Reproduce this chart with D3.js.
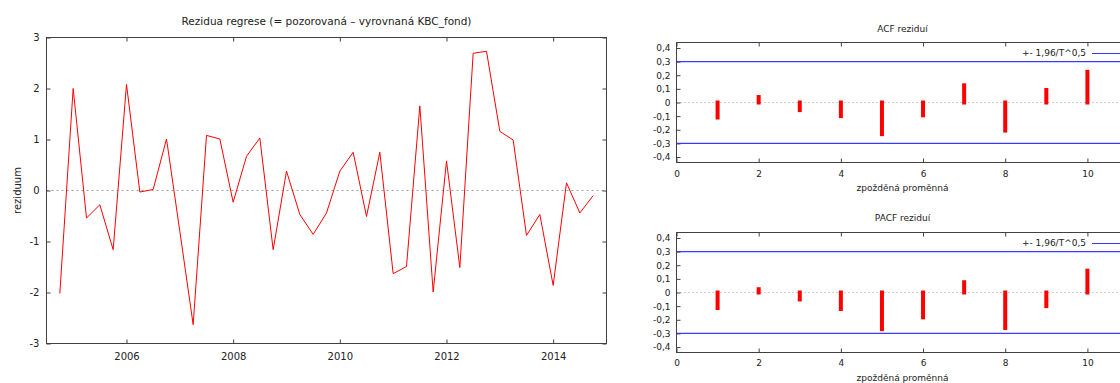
<!DOCTYPE html>
<html>
<head>
<meta charset="utf-8">
<script src="https://cdn.jsdelivr.net/npm/d3@7"></script>
<style>
  html, body { margin: 0; padding: 0; background: #fff; }
  svg { display: block; font-family: "DejaVu Sans", Verdana, sans-serif; }
</style>
</head>
<body>
<svg id="chart" width="1120" height="383"></svg>
<script>
// Quarterly periods of the regression sample
const periods = [
  "2004:4",
  "2005:1","2005:2","2005:3","2005:4",
  "2006:1","2006:2","2006:3","2006:4",
  "2007:1","2007:2","2007:3","2007:4",
  "2008:1","2008:2","2008:3","2008:4",
  "2009:1","2009:2","2009:3","2009:4",
  "2010:1","2010:2","2010:3","2010:4",
  "2011:1","2011:2","2011:3","2011:4",
  "2012:1","2012:2","2012:3","2012:4",
  "2013:1","2013:2","2013:3","2013:4",
  "2014:1","2014:2","2014:3","2014:4"
];

// Regression residuals (observed - fitted KBC_fond)
const residuals = [
  -2.02, 2.00, -0.54, -0.28, -1.16, 2.08, -0.03, 0.02, 1.01, -0.80,
  -2.63, 1.08, 1.01, -0.23, 0.67, 1.03, -1.16, 0.38, -0.47, -0.86,
  -0.44, 0.38, 0.75, -0.51, 0.75, -1.63, -1.49, 1.66, -1.99, 0.58,
  -1.51, 2.69, 2.73, 1.16, 0.99, -0.88, -0.47, -1.86, 0.15, -0.44,
  -0.10
];

// Correlogram of the residuals
const lags = [1, 2, 3, 4, 5, 6, 7, 8, 9, 10];
const acfValues  = [-0.11, 0.04, -0.056, -0.10, -0.232, -0.094, 0.126, -0.206, 0.092, 0.225];
const pacfValues = [-0.114, 0.024, -0.051, -0.121, -0.269, -0.182, 0.075, -0.26, -0.10, 0.16];
const confBand = 0.30; // +- 1.96/T^0.5

// Tick labels
const yearTicks = [2006, 2008, 2010, 2012, 2014];
const residTicks = [-3, -2, -1, 0, 1, 2, 3];
const lagTicks = [0, 2, 4, 6, 8, 10];
const corrTicks = [-0.4, -0.3, -0.2, -0.1, 0, 0.1, 0.2, 0.3, 0.4];

const cz = d3.formatLocale({decimal: ",", thousands: " ", grouping: [3], currency: ["", ""], minus: "-"});
const fmtInt = cz.format("d");
const fmtCorr = d => (d === 0 ? "0" : cz.format(".1f")(d));

const svg = d3.select("#chart");
const borderColor = "#404040";
const textColor = "#222";
const bandColor = "#3a3aff";

function styleAxis(g, fontSize) {
  g.select(".domain").remove();
  g.selectAll(".tick line").attr("stroke", borderColor);
  g.selectAll(".tick text").attr("fill", textColor)
    .style("font-size", fontSize + "px")
    .style("font-family", "DejaVu Sans, Verdana, sans-serif");
}

// ---------- Residual time series ----------
{
  const x0 = 46.5, x1 = 606.5, y0 = 37.5, y1 = 343.5;
  const x = d3.scaleLinear().domain([2004.5, 2015]).range([x0, x1]);
  const y = d3.scaleLinear().domain([-3, 3]).range([y1, y0]);
  const toYear = p => { const [yr, q] = p.split(":").map(Number); return yr + (q - 1) / 4; };
  const g = svg.append("g");

  g.append("line")
    .attr("x1", x0).attr("x2", x1).attr("y1", y(0)).attr("y2", y(0))
    .attr("stroke", "#a0a0a0").attr("stroke-width", 1).attr("stroke-dasharray", "2,3");

  g.append("g").attr("transform", `translate(${x0},0)`)
    .call(d3.axisLeft(y).tickValues(residTicks).tickFormat(fmtInt).tickSize(-4).tickPadding(7))
    .call(a => styleAxis(a, 10));
  g.append("g").attr("transform", `translate(${x1},0)`)
    .call(d3.axisRight(y).tickValues(residTicks).tickFormat("").tickSize(-4))
    .call(a => styleAxis(a, 10));
  g.append("g").attr("transform", `translate(0,${y1})`)
    .call(d3.axisBottom(x).tickValues(yearTicks).tickFormat(fmtInt).tickSize(-4).tickPadding(9.5))
    .call(a => styleAxis(a, 10));
  g.append("g").attr("transform", `translate(0,${y0})`)
    .call(d3.axisTop(x).tickValues(yearTicks).tickFormat("").tickSize(-4))
    .call(a => styleAxis(a, 10));

  const line = d3.line()
    .x((d, i) => x(toYear(periods[i])))
    .y(d => y(d));
  g.append("path").datum(residuals)
    .attr("d", line).attr("fill", "none")
    .attr("stroke", "#ff0000").attr("stroke-width", 1).attr("stroke-linejoin", "miter");

  g.append("rect")
    .attr("x", x0).attr("y", y0).attr("width", x1 - x0).attr("height", y1 - y0)
    .attr("fill", "none").attr("stroke", borderColor).attr("stroke-width", 1);

  g.append("text")
    .attr("x", (x0 + x1) / 2).attr("y", 21)
    .attr("text-anchor", "middle").attr("dominant-baseline", "central")
    .attr("fill", textColor).style("font-size", "10.5px")
    .text("Rezidua regrese (= pozorovaná – vyrovnaná KBC_fond)");

  g.append("text")
    .attr("transform", `translate(17,${(y0 + y1) / 2}) rotate(-90)`)
    .attr("text-anchor", "middle").attr("dominant-baseline", "central")
    .attr("fill", textColor).style("font-size", "10px")
    .text("reziduum");
}

// ---------- Correlogram panels ----------
function correlogram(values, top, bottom, title, titleY, xlabelY, legendY, padX) {
  const x0 = 676.5, x1 = 1128.5;
  const x = d3.scaleLinear().domain([0, 11]).range([x0, x1]);
  const y = d3.scaleLinear().domain([-0.44, 0.44]).range([bottom, top]);
  const g = svg.append("g");

  g.append("line")
    .attr("x1", x0).attr("x2", x1).attr("y1", y(0)).attr("y2", y(0))
    .attr("stroke", "#a0a0a0").attr("stroke-width", 1).attr("stroke-dasharray", "1,3");

  g.append("g").attr("transform", `translate(${x0},0)`)
    .call(d3.axisLeft(y).tickValues(corrTicks).tickFormat(fmtCorr).tickSize(-4).tickPadding(6))
    .call(a => styleAxis(a, 9));
  g.append("g").attr("transform", `translate(0,${bottom})`)
    .call(d3.axisBottom(x).tickValues(lagTicks).tickFormat(fmtInt).tickSize(-4).tickPadding(padX))
    .call(a => styleAxis(a, 9));
  g.append("g").attr("transform", `translate(0,${top})`)
    .call(d3.axisTop(x).tickValues(lagTicks).tickFormat("").tickSize(-4))
    .call(a => styleAxis(a, 9));

  g.append("rect")
    .attr("x", x0).attr("y", top).attr("width", x1 - x0).attr("height", bottom - top)
    .attr("fill", "none").attr("stroke", borderColor).attr("stroke-width", 1);

  // confidence band drawn over the border so its colour stays visible
  [confBand, -confBand].forEach(c => {
    g.append("line")
      .attr("x1", x0 + 0.5).attr("x2", x1).attr("y1", y(c)).attr("y2", y(c))
      .style("stroke", bandColor).style("stroke-width", "1.2px");
  });

  g.selectAll("line.bar").data(values).join("line")
    .attr("class", "bar")
    .attr("x1", (d, i) => x(lags[i])).attr("x2", (d, i) => x(lags[i]))
    .attr("y1", y(0)).attr("y2", d => y(d))
    .attr("stroke", "#ff0000").attr("stroke-width", 4).attr("stroke-linecap", "square");

  g.append("text")
    .attr("x", (x0 + x1) / 2).attr("y", titleY)
    .attr("text-anchor", "middle").attr("dominant-baseline", "central")
    .attr("fill", textColor).style("font-size", "9px").text(title);

  g.append("text")
    .attr("x", (x0 + x1) / 2).attr("y", xlabelY)
    .attr("text-anchor", "middle").attr("dominant-baseline", "central")
    .attr("fill", textColor).style("font-size", "9px").text("zpožděná proměnná");

  g.append("text")
    .attr("x", 1086).attr("y", legendY)
    .attr("text-anchor", "end").attr("dominant-baseline", "central")
    .attr("fill", textColor).style("font-size", "9px").text("+- 1,96/T^0,5");
  g.append("line")
    .attr("x1", 1092).attr("x2", 1128).attr("y1", Math.round(legendY) + 0.5).attr("y2", Math.round(legendY) + 0.5)
    .style("stroke", bandColor).style("stroke-width", "1.2px");
}

correlogram(acfValues, 42.5, 162.5, "ACF reziduí", 29, 188.3, 53.3, 8);
correlogram(pacfValues, 232.5, 352.5, "PACF reziduí", 218.3, 377.7, 242.7, 7);
</script>
</body>
</html>
